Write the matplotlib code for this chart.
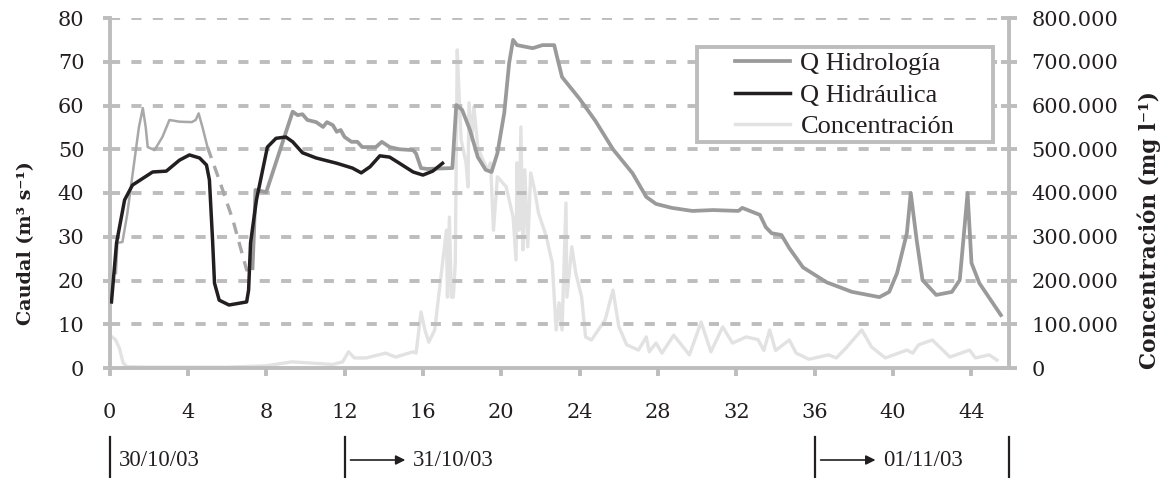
import matplotlib
matplotlib.use('Agg')
import matplotlib.pyplot as plt
from matplotlib.lines import Line2D
from matplotlib.patches import Rectangle
import matplotlib.transforms as mtransforms
import numpy as np

# caudal calculado por hidrologia (m3/s)
hidro_t = [0.33, 0.40, 0.66, 0.9, 1.2, 1.5, 1.7, 1.85, 1.95, 2.3, 2.7, 3.06, 3.57, 4.2, 4.4, 4.55,
           4.76, 5.0, 5.6, 6.3, 7.0, 7.3, 7.38, 7.45, 8.0, 9.35, 9.6, 9.85, 10.1, 10.55, 10.9,
           11.1, 11.4, 11.6, 11.8, 12.0, 12.35, 12.65, 12.9, 13.6, 13.9, 14.3, 14.8, 15.5, 15.65,
           15.9, 16.2, 17.5, 17.7, 18.0, 18.4, 18.8, 19.2, 19.5, 19.8, 20.15, 20.4, 20.6, 20.8,
           21.6, 22.1, 22.7, 22.85, 23.1, 24.0, 24.8, 25.7, 26.7, 27.4, 27.9, 28.7, 29.75, 30.8,
           32.1, 32.3, 33.2, 33.5, 33.8, 34.3, 34.7, 35.4, 36.6, 37.9, 39.3, 39.8, 40.2, 40.7,
           40.9, 41.2, 41.5, 42.2, 43.0, 43.4, 43.6, 43.8, 44.0, 44.4, 45.5]
hidro_q = [21.7, 28.6, 28.8, 35, 45, 55, 59.4, 55, 50.5, 49.8, 52.8, 56.7, 56.3, 56.2, 56.7, 58.2,
           54.8, 50.5, 43, 33.8, 22.4, 22.8, 31.5, 40.7, 40.2, 58.6, 57.8, 58, 56.7, 56.2, 55.1,
           56.2, 55.5, 54, 54.4, 52.8, 51.7, 51.7, 50.5, 50.5, 51.7, 50.5, 50, 49.8, 49,
           45.7, 45.5, 45.7, 60.1, 59, 54.4, 48.2, 45.3, 44.8, 49.1, 58.3, 69.7, 75, 73.8,
           73.1, 73.8, 73.8, 71, 66.5, 61.5, 56.5, 50, 44.5, 39.1, 37.5, 36.6, 35.9, 36.1,
           35.9, 36.6, 35, 32.2, 30.8, 30.4, 27.4, 23, 19.6, 17.4, 16.2, 17.4, 21.7, 30.8,
           40, 29.3, 20.1, 16.7, 17.4, 20.1, 30, 40, 24, 19.4, 12.1]

# caudal del modelo hidraulico (m3/s)
hidra_t = [0.1, 0.36, 0.77, 1.17, 2.2, 2.9, 3.57, 4.08, 4.6, 4.95, 5.1, 5.26, 5.36, 5.6, 6.1, 7.0,
           7.1, 7.2, 7.5, 8.06, 8.5, 9.0, 9.35, 9.85, 10.55, 11.6, 12.4, 12.85, 13.3, 13.8, 14.3,
           14.8, 15.5, 16.0, 16.5, 17.0]
hidra_q = [15.1, 28.6, 38.4, 41.8, 44.8, 45, 47.5, 48.7, 48, 46.4, 43, 29.3, 19.4, 15.5, 14.4, 15.1,
           17.8, 28.6, 38.4, 50.5, 52.5, 52.8, 51.7, 49.2, 48, 46.8, 45.7, 44.6, 46, 48.5, 48.2,
           46.8, 44.8, 44.1, 45, 46.8]

# concentracion de sedimentos (miles de mg/l)
conc_t = [0.1, 0.3, 0.5, 0.7, 0.9, 2, 4, 6, 8, 9.3, 10.4, 11.4, 11.9, 12.2, 12.5, 13.1, 14.1, 14.6,
          15.5, 15.65, 15.9, 16.1, 16.3, 16.6, 17.0, 17.2, 17.25, 17.35, 17.45, 17.55, 17.65, 17.75,
          17.85, 17.95, 18.2, 18.3, 18.35, 18.5, 18.6, 18.8, 19.0, 19.3, 19.45, 19.6, 19.8, 20.25,
          20.6, 20.75, 20.8, 20.9, 21.0, 21.1, 21.2, 21.35, 21.5, 21.7, 21.9, 22.3, 22.6, 22.8,
          22.95, 23.1, 23.3, 23.35, 23.6, 23.8, 24.1, 24.3, 24.6, 25.3, 25.7, 26.0, 26.4, 27.0,
          27.4, 27.55, 27.9, 28.2, 28.8, 29.6, 30.2, 30.7, 31.3, 31.8, 32.5, 33.1, 33.4, 33.7,
          34.0, 34.7, 35.05, 35.7, 36.7, 37.1, 37.6, 38.4, 38.9, 39.6, 40.7, 41.0, 41.3, 42.0,
          42.9, 43.9, 44.2, 44.9, 45.3]
conc_c = [72, 65, 46, 11, 3, 2, 2, 2, 5, 14, 11, 8, 14, 37, 23, 23, 34, 25,
          37, 34, 128, 87, 59, 87, 240, 315, 162, 345, 162, 162, 240, 727,
          620, 521, 469, 414, 606, 521, 597, 505, 482, 453, 469, 315, 437, 414,
          345, 247, 469, 315, 551, 270, 453, 277, 446, 407, 354, 300, 240, 87,
          149, 87, 377, 162, 277, 217, 162, 71, 64, 110, 178, 94, 53, 41,
          71, 37, 57, 34, 75, 30, 105, 37, 94, 57, 71, 65, 40, 87,
          40, 64, 34, 20, 30, 23, 46, 87, 48, 23, 41, 34, 53, 64,
          25, 41, 23, 30, 18]

q_ticks = [0, 10, 20, 30, 40, 50, 60, 70, 80]
c_ticks = [0, 100, 200, 300, 400, 500, 600, 700, 800]
x_ticks = [0, 4, 8, 12, 16, 20, 24, 28, 32, 36, 40, 44]
dates = ['30/10/03', '31/10/03', '01/11/03']
date_start = [0, 12, 36]

grey_axis = '#BDBDBD'
c_hidro = '#9A9A9A'
c_hidra = '#231F20'
c_conc = '#E2E2E2'
txt = '#231F20'
tick_font = 'DejaVu Serif'
body_font = 'Liberation Serif'
x_end = 45.94
axis_lw = 2.8

fig = plt.figure(figsize=(11.67, 4.78), dpi=100)
ax = fig.add_axes([109.5 / 1167, 110 / 478, 900 / 1167, 350 / 478])
ax2 = ax.twinx()
ax.set_zorder(ax2.get_zorder() + 1)
ax.patch.set_visible(False)

# lineas horizontales discontinuas
ax.hlines(q_ticks[1:], 0, x_end, colors=grey_axis, linewidths=axis_lw,
          linestyles=(0, (2.6, 2.9)), zorder=1)

ht = np.array(hidro_t)
hq = np.array(hidro_q)
first = ht <= 5.0
gap = (ht >= 5.0) & (ht <= 7.3)
rest = ht >= 7.3
ax.plot(ht[first], hq[first], color='#A8A8A8', lw=1.8, solid_joinstyle='round', zorder=3)
ax.plot(ht[gap], hq[gap], color='#A8A8A8', lw=2.4, dashes=(3.5, 2.5), zorder=3)
ax.plot(ht[rest], hq[rest], color=c_hidro, lw=2.7, solid_joinstyle='round', zorder=3)
ax.plot(hidra_t, hidra_q, color=c_hidra, lw=2.5, solid_joinstyle='round', zorder=4)
ax2.plot(conc_t, conc_c, color=c_conc, lw=2.4, solid_joinstyle='round')

ax.set_xlim(0, x_end)
ax.set_ylim(0, 80)
ax2.set_ylim(0, 800)

ax.set_yticks(q_ticks)
ax.set_yticklabels([str(v) for v in q_ticks])
ax2.set_yticks(c_ticks)
ax2.set_yticklabels(['0' if v == 0 else f'{v:.3f}' for v in c_ticks])
ax.set_xticks(x_ticks)

for a in (ax, ax2):
    for s in a.spines.values():
        s.set_color(grey_axis)
        s.set_linewidth(axis_lw)
    a.spines['top'].set_visible(False)
ax.spines['right'].set_visible(False)
ax2.spines['left'].set_visible(False)
ax2.spines['bottom'].set_visible(False)

ax.tick_params(axis='y', direction='out', length=5, width=axis_lw, color=grey_axis, pad=13,
               labelsize=15, labelcolor=txt)
ax.tick_params(axis='x', direction='out', length=6, width=axis_lw, color=grey_axis, pad=19,
               labelsize=15, labelcolor=txt)
ax2.tick_params(axis='y', direction='inout', length=12, width=axis_lw, color=grey_axis, pad=10,
                labelsize=15, labelcolor=txt)
for lab in ax.get_xticklabels() + ax.get_yticklabels() + ax2.get_yticklabels():
    lab.set_fontfamily(tick_font)

ax.set_ylabel('Caudal (m³ s⁻¹)', fontfamily=tick_font, fontweight='bold', fontsize=13.8,
              color=txt)
ax.yaxis.set_label_coords(-0.083, 0.356)
ax2.set_ylabel('Concentración (mg l⁻¹)', fontfamily=tick_font, fontweight='bold', fontsize=15.5,
               color=txt)
ax2.yaxis.set_label_coords(1.1417, 0.394)

# leyenda con marco gris
frame = Rectangle((697 / 1167, 1 - 142 / 478), 296 / 1167, 95 / 478, transform=fig.transFigure,
                  facecolor='white', edgecolor=grey_axis, lw=axis_lw, zorder=5)
fig.patches.append(frame)
handles = [Line2D([], [], color=c_hidro, lw=2.7),
           Line2D([], [], color=c_hidra, lw=2.5),
           Line2D([], [], color=c_conc, lw=2.5)]
leg = fig.legend(handles, ['Q Hidrología', 'Q Hidráulica', 'Concentración'],
                 loc='upper left', bbox_to_anchor=(735 / 1167, 1 - 52 / 478),
                 frameon=False, borderpad=0, borderaxespad=0, handlelength=2.1,
                 handletextpad=0.38, labelspacing=0.3,
                 prop={'family': body_font, 'size': 19})
for t in leg.get_texts():
    t.set_color(txt)

# marcas de fecha bajo el eje
tr = mtransforms.blended_transform_factory(ax.transData, fig.transFigure)
y_txt = 18 / 478
for xb in date_start + [x_end]:
    fig.add_artist(Line2D([xb, xb], [0, 41 / 478], transform=tr, color=txt, lw=1.6))
fig.text(0.5, y_txt, dates[0], transform=tr, va='center', ha='left',
         fontfamily=body_font, fontsize=16.5, color=txt)
for d, x0 in zip(dates[1:], date_start[1:]):
    ax.annotate('', xy=(x0 + 3.1, y_txt), xytext=(x0 + 0.3, y_txt),
                xycoords=tr, textcoords=tr,
                arrowprops=dict(arrowstyle='-|>', color=txt, lw=1.2, mutation_scale=14,
                                shrinkA=0, shrinkB=0))
    fig.text(x0 + 3.5, y_txt, d, transform=tr, va='center', ha='left',
             fontfamily=body_font, fontsize=16.5, color=txt)

fig.savefig('out.png', dpi=100)
